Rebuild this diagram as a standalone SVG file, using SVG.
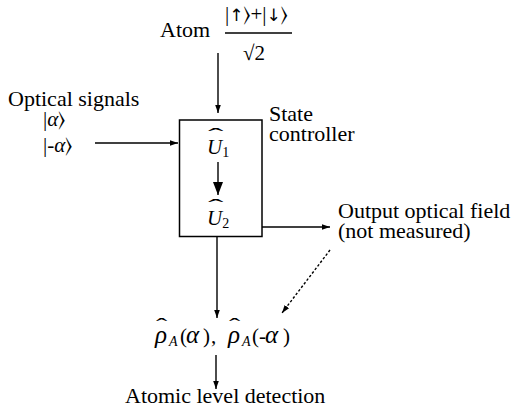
<svg xmlns="http://www.w3.org/2000/svg" width="516" height="417" viewBox="0 0 516 417">
<style>
text{font-family:'Liberation Serif','Times New Roman',Tinos,'Nimbus Roman','Nimbus Roman No9 L',FreeSerif,'DejaVu Serif','Noto Serif',serif;fill:#000;}
.t{font-size:22px;}
.m{font-size:21px;}
.g{font-size:25px;font-style:italic;}
.i{font-style:italic;}
.sub{font-size:14px;}
.sym{font-family:'DejaVu Sans',sans-serif;font-size:17px;}
.ln{stroke:#000;stroke-width:1.4;fill:none;}
.dot{stroke:#000;stroke-width:1.4;fill:none;stroke-dasharray:2.5 2;}
</style>
<defs>
<marker id="ah" viewBox="0 0 10 10" refX="10" refY="5" markerWidth="8" markerHeight="8" markerUnits="userSpaceOnUse" orient="auto">
<path d="M0,1.5 L10,5 L0,8.5 z" fill="#000"/>
</marker>
<marker id="ahb" viewBox="0 0 10 10" refX="10" refY="5" markerWidth="13" markerHeight="10" markerUnits="userSpaceOnUse" orient="auto" preserveAspectRatio="none">
<path d="M0,0 L10,5 L0,10 z" fill="#000"/>
</marker>
</defs>

<g id="atom">
<text class="t" x="160" y="37">Atom</text>
<text class="m" x="225" y="21">|<tspan class="sym">↑︎</tspan>⟩+|<tspan class="sym">↓︎</tspan>⟩</text>
<line class="ln" x1="225" y1="33" x2="292" y2="33"/>
<text class="m" x="243" y="60">√2</text>
</g>

<g id="optical">
<text class="t" x="8" y="106">Optical signals</text>
<text class="m" x="43" y="126">|<tspan class="i">α</tspan>⟩</text>
<text class="m" x="43" y="152">|-<tspan class="i">α</tspan>⟩</text>
</g>

<g id="controller">
<rect x="179.5" y="120" width="82.5" height="116.5" fill="none" stroke="#000" stroke-width="1.5"/>
<text class="m i" x="207" y="154">U<tspan class="sub" font-style="normal" dy="3">1</tspan></text>
<text class="m" x="0" y="0" transform="translate(208,143) scale(2.2,1)">ˆ</text>
<text class="m i" x="207" y="225">U<tspan class="sub" font-style="normal" dy="3">2</tspan></text>
<text class="m" x="0" y="0" transform="translate(208,214) scale(2.2,1)">ˆ</text>
<line class="ln" x1="218" y1="162" x2="218" y2="195" marker-end="url(#ahb)"/>
<text class="t" x="269" y="121">State</text>
<text class="t" x="269" y="141">controller</text>
</g>

<g id="output">
<text class="t" x="338" y="218">Output optical field</text>
<text class="t" x="338" y="238">(not measured)</text>
</g>

<g id="rho">
<text class="m" y="343"><tspan class="g" x="155">ρ</tspan><tspan class="sub i" x="169" dy="3">A</tspan><tspan x="180" dy="-3">(</tspan><tspan class="g" x="186">α</tspan><tspan x="203">)</tspan><tspan x="211">,</tspan><tspan class="g" x="228">ρ</tspan><tspan class="sub i" x="242" dy="3">A</tspan><tspan x="252" dy="-3">(-</tspan><tspan class="g" x="265">α</tspan><tspan x="283">)</tspan></text>
<text class="m" x="0" y="0" transform="translate(156,333) scale(1.6,1)">ˆ</text>
<text class="m" x="0" y="0" transform="translate(229,333) scale(1.6,1)">ˆ</text>
</g>

<g id="detection">
<text class="t" x="125" y="403">Atomic level detection</text>
</g>

<g id="connectors">
<line class="ln" x1="218" y1="53" x2="218" y2="113" marker-end="url(#ah)"/>
<line class="ln" x1="95" y1="143" x2="178" y2="143" marker-end="url(#ah)"/>
<line class="ln" x1="262" y1="227" x2="330" y2="227" marker-end="url(#ah)"/>
<line class="ln" x1="217" y1="237" x2="217" y2="318" marker-end="url(#ah)"/>
<line class="dot" x1="330" y1="250" x2="282" y2="313" marker-end="url(#ah)"/>
<line class="ln" x1="216" y1="355" x2="216" y2="389" marker-end="url(#ah)"/>
</g>
</svg>
